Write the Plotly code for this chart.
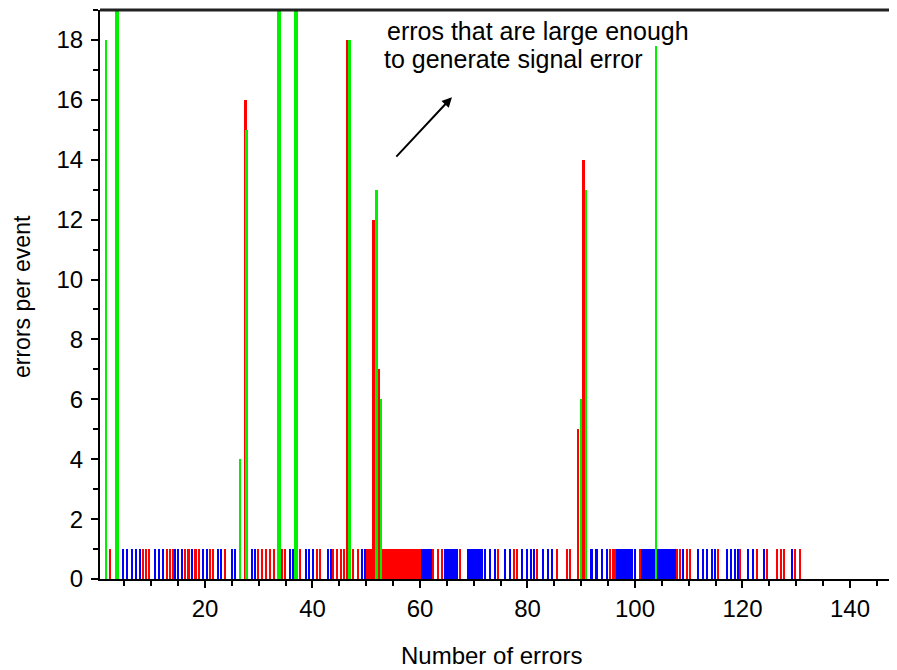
import plotly.graph_objects as go

# ---- data ----
blue_x = [4.74, 5.49, 6.42, 7.16, 7.91, 10.70, 11.44, 12.19, 14.42, 14.98, 15.72,
          17.6, 19.63, 20.37, 22.42, 22.98, 25.02, 25.58, 28.74, 29.30, 35.81, 36.37,
          38.79, 39.35, 40.09, 42.88, 43.44, 49.21, 49.77,
          60.4, 60.8, 61.2, 61.6, 62.0,
          64.8, 65.2, 65.6, 66.0, 66.4, 66.8,
          69.0, 69.4, 69.8, 70.2, 70.6, 71.0, 71.4,
          72.09, 73.02, 73.95, 75.81, 76.74, 78.98, 79.91, 80.65, 81.21,
          82.88, 83.81, 84.56, 91.91, 92.84, 93.86, 94.79,
          96.8, 97.3, 97.8, 98.2, 98.6, 99.0, 99.4, 100.0,
          101.4, 101.8, 102.2, 102.6, 103.0, 103.4,
          104.2, 104.6, 105.0, 105.4, 105.8, 106.2, 106.6, 107.0, 107.4,
          108.93, 111.72, 112.65, 113.40, 114.33, 114.88,
          117.12, 117.86, 118.60, 119.16, 121.02, 121.95, 124.0, 129.21]
red_x = [2.33, 8.47, 9.0, 9.58, 12.93, 13.49, 14.05, 16.3, 16.9, 18.3, 18.9,
         20.93, 21.49, 23.72, 29.86, 30.60, 31.35, 32.09, 32.84, 34.33, 34.88,
         37.67, 40.84, 41.40, 43.81, 44.56, 45.30, 45.86, 47.53, 48.47,
         50.2, 50.6, 51.0, 51.4, 51.8, 52.2, 52.6, 53.0, 53.4, 53.8, 54.2, 54.6,
         55.0, 55.4, 55.8, 56.2,
         56.8, 57.2, 57.6, 58.0, 58.4, 58.8, 59.2, 59.6, 60.0,
         62.42, 63.35, 64.09, 67.44, 74.51, 77.49, 78.05, 81.77, 85.49, 87.35, 87.91,
         95.35, 95.91, 96.28, 100.93, 107.81, 108.37, 109.67, 110.23, 115.44,
         119.53, 122.70, 124.56, 126.42, 127.16, 127.72, 129.77, 130.70]
low_height = 1

red_peak_x = [27.6, 46.4, 51.4, 52.4, 89.4, 90.4]
red_peak_y = [16, 18, 12, 7, 5, 14]

green_peak_x = [1.6, 26.5, 27.7, 46.9, 51.9, 52.8, 90.0, 90.9, 103.9]
green_peak_y = [18, 4, 15, 18, 13, 6, 6, 13, 17.8]

# peaks that run off the top of the axis
green_over_x = [3.63, 33.77, 36.93]
green_over_y = [20, 20, 20]

x_tick_vals = [20, 40, 60, 80, 100, 120, 140]
y_tick_vals = [0, 2, 4, 6, 8, 10, 12, 14, 16, 18]

FONT = "Liberation Sans, Arial, sans-serif"
BLUE = "#0000ff"
RED = "#ff0000"
GREEN = "#00f000"

fig = go.Figure()
fig.add_trace(go.Bar(x=blue_x, y=[low_height] * len(blue_x), width=0.5,
                     marker=dict(color=BLUE, line=dict(width=0)), name="blue"))
fig.add_trace(go.Bar(x=red_x, y=[low_height] * len(red_x), width=0.5,
                     marker=dict(color=RED, line=dict(width=0)), name="red"))
fig.add_trace(go.Bar(x=red_peak_x, y=red_peak_y, width=0.5,
                     marker=dict(color=RED, line=dict(width=0)), name="red peaks"))
fig.add_trace(go.Bar(x=green_peak_x, y=green_peak_y, width=0.45,
                     marker=dict(color=GREEN, line=dict(width=0)), name="green peaks"))
fig.add_trace(go.Bar(x=green_over_x, y=green_over_y, width=0.85,
                     marker=dict(color=GREEN, line=dict(width=0)), name="green over"))

# the page body has an 8px margin, so the figure is sized to fill the rest
fig.update_layout(
    width=889, height=662,
    margin=dict(l=92, r=0, t=2, b=91, autoexpand=False),
    paper_bgcolor="white", plot_bgcolor="white",
    barmode="overlay", showlegend=False, bargap=0,
    font=dict(family=FONT, color="black"),
    xaxis=dict(range=[0.47, 148.75], showgrid=False, zeroline=False,
               showline=True, linecolor="black", linewidth=2,
               ticks="outside", ticklen=7, tickwidth=2, tickcolor="black",
               tickvals=x_tick_vals, tickfont=dict(size=24, family=FONT),
               minor=dict(dtick=5, tick0=0, ticks="outside", ticklen=5,
                          tickwidth=2, tickcolor="black", showgrid=False)),
    yaxis=dict(range=[0, 19], showgrid=False, zeroline=False,
               showline=True, linecolor="black", linewidth=2,
               ticks="outside", ticklen=7, tickwidth=2, tickcolor="black",
               tickvals=y_tick_vals, tickfont=dict(size=24, family=FONT),
               ticklabelstandoff=3,
               minor=dict(dtick=1, tick0=0, ticks="outside", ticklen=5,
                          tickwidth=2, tickcolor="black", showgrid=False)),
)

# top frame line
fig.add_shape(type="line", xref="paper", yref="paper", x0=0, x1=1, y0=1, y1=1,
              line=dict(color="#222222", width=3))

fig.add_annotation(text="Number of errors", xref="paper", yref="paper",
                   x=0.4906, y=0, yshift=-76, xanchor="center", yanchor="middle",
                   showarrow=False, font=dict(size=24, family=FONT))
fig.add_annotation(text="errors per event", xref="paper", yref="paper",
                   x=0, xshift=-78, y=0.4956, textangle=-90,
                   xanchor="center", yanchor="middle",
                   showarrow=False, font=dict(size=23, family=FONT))
fig.add_annotation(text="erros that are large enough", xref="paper", yref="paper",
                   x=0.3576, y=0.963, xanchor="left", yanchor="middle",
                   showarrow=False, font=dict(size=25, family=FONT))
fig.add_annotation(text="to generate signal error", xref="paper", yref="paper",
                   x=0.3538, y=0.9139, xanchor="left", yanchor="middle",
                   showarrow=False, font=dict(size=25, family=FONT))
fig.add_annotation(text="", x=65.95, y=16.09, xref="x", yref="y",
                   ax=-57, ay=61, showarrow=True, arrowhead=2, arrowsize=1,
                   arrowwidth=2, arrowcolor="black")

fig.write_html("out.html")
